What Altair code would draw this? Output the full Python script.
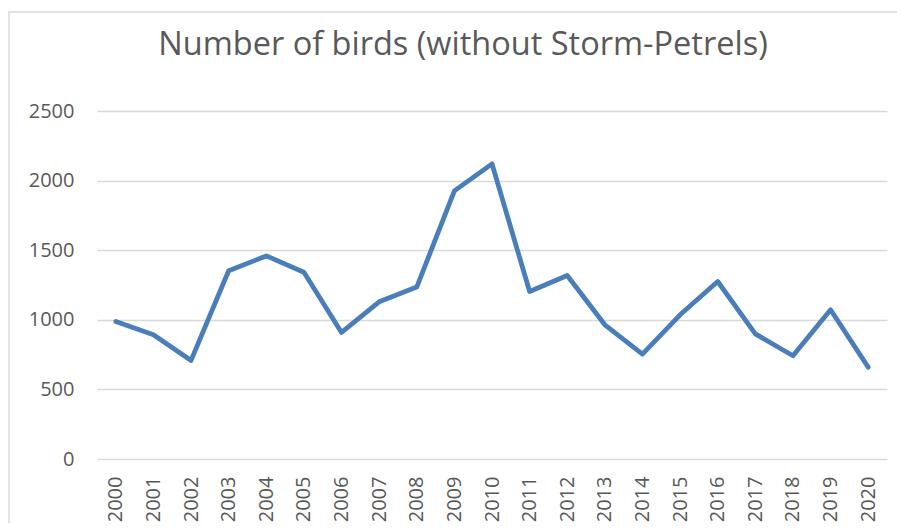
import altair as alt
import pandas as pd

years = [str(y) for y in range(2000, 2021)]
birds = [988, 892, 708, 1352, 1459, 1342, 909, 1129, 1235, 1926, 2120,
         1203, 1318, 964, 754, 1036, 1275, 899, 742, 1072, 660]
y_ticks = [0, 500, 1000, 1500, 2000, 2500]

df = pd.DataFrame({"Year": years, "Birds": birds})

FONT = "Open Sans"
GREY = "#595959"

frame = alt.Chart(pd.DataFrame({"a": [0]})).mark_rect(
    fill="#ffffff", fillOpacity=0, stroke="#d9d9d9", strokeWidth=1.5
).encode(
    x=alt.value(-88), x2=alt.value(1200),
    y=alt.value(-99), y2=alt.value(1000),
)

line = alt.Chart(df).mark_line(
    color="#4a7ebb", strokeWidth=4.8, strokeCap="round", strokeJoin="round"
).encode(
    x=alt.X("Year:O", sort=years, title=None,
            axis=alt.Axis(labelAngle=-90, labelAlign="right", labelBaseline="middle",
                          labelPadding=17, ticks=False, domain=False, grid=False,
                          labelFontSize=20, labelColor=GREY, labelFont=FONT)),
    y=alt.Y("Birds:Q", title=None,
            scale=alt.Scale(domain=[0, 2500], nice=False, zero=True),
            axis=alt.Axis(values=y_ticks, format="d", ticks=False, domain=False, grid=True,
                          gridColor="#d9d9d9", gridWidth=1.5,
                          labelPadding=23, labelFontSize=20, labelColor=GREY,
                          labelFont=FONT)),
)

chart = alt.layer(frame, line).properties(
    width=790, height=348,
    title=alt.TitleParams("Number of birds (without Storm-Petrels)", fontSize=32.5,
                          font=FONT, fontWeight="normal", color=GREY,
                          anchor="middle", frame="group", baseline="alphabetic",
                          dx=-29, offset=-76),
    autosize=alt.AutoSizeParams(type="none"),
    padding={"left": 89, "top": 103, "right": 10, "bottom": 64},
).configure_view(stroke=None).configure_scale(pointPadding=0.5)

chart.save("out.html", embed_options={"renderer": "svg", "actions": False})
